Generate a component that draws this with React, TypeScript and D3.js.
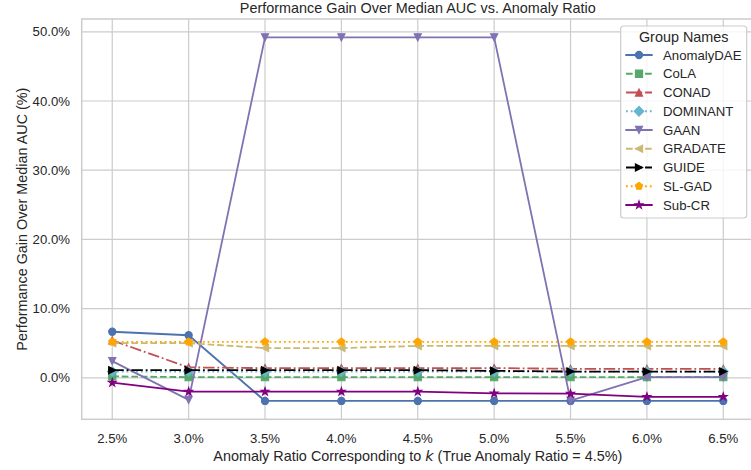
import React from 'react';
import * as d3 from 'd3';

const ratios = [2.5, 3.0, 3.5, 4.0, 4.5, 5.0, 5.5, 6.0, 6.5];
const xTickLabels = ['2.5%', '3.0%', '3.5%', '4.0%', '4.5%', '5.0%', '5.5%', '6.0%', '6.5%'];
const yTicks = [0, 10, 20, 30, 40, 50];

const anomalyDAE = [6.65, 6.15, -3.35, -3.35, -3.35, -3.35, -3.35, -3.35, -3.35];
const cola = [0.2, 0.1, 0.1, 0.1, 0.1, 0.1, 0.1, 0.1, 0.1];
const conad = [5.4, 1.5, 1.4, 1.4, 1.4, 1.4, 1.3, 1.3, 1.3];
const dominant = [0.9, 0.9, 0.9, 0.9, 0.9, 0.9, 0.9, 0.9, 0.9];
const gaan = [2.4, -3.2, 49.2, 49.2, 49.2, 49.2, -3.3, 0.1, 0.1];
const gradate = [5.0, 5.0, 4.3, 4.3, 4.6, 4.6, 4.6, 4.6, 4.6];
const guide = [1.1, 1.1, 1.1, 1.1, 1.1, 1.0, 0.9, 0.9, 0.9];
const slgad = [5.2, 5.2, 5.2, 5.2, 5.2, 5.2, 5.2, 5.2, 5.2];
const subcr = [-0.7, -2.0, -2.0, -2.0, -2.0, -2.25, -2.3, -2.75, -2.75];

const groupNames = ['AnomalyDAE', 'CoLA', 'CONAD', 'DOMINANT', 'GAAN', 'GRADATE', 'GUIDE', 'SL-GAD', 'Sub-CR'];
const groupValues = [anomalyDAE, cola, conad, dominant, gaan, gradate, guide, slgad, subcr];
const groupColors = ['#4c72b0', '#55a868', '#c44e52', '#64b5cd', '#8172b2', '#ccb974', '#000000', '#ffa500', '#800080'];
const groupDashes = ['solid', 'dashed', 'dashdot', 'dotted', 'solid', 'dashed', 'dashdot', 'dotted', 'solid'];
const groupMarkers = ['o', 's', '^', 'D', 'v', '<', '>', 'p', '*'];

const W = 751;
const H = 470;
const LW = 1.8;
const FONT = '"Liberation Sans", Arial, sans-serif';
const TXT = '#262626';

function dashArray(d: string): string | undefined {
  if (d === 'dashed') return `${3.7 * LW},${1.6 * LW}`;
  if (d === 'dashdot') return `${6.4 * LW},${1.6 * LW},${1 * LW},${1.6 * LW}`;
  if (d === 'dotted') return `${1 * LW},${1.65 * LW}`;
  return undefined;
}

function markerPath(m: string): string {
  const s = 3.6;
  const poly = (pts: [number, number][]) => 'M' + pts.map((p) => p.join(',')).join('L') + 'Z';
  switch (m) {
    case 'o':
      return d3.symbol(d3.symbolCircle, Math.PI * s * s)() as string;
    case 's':
      return poly([[-s, -s], [s, -s], [s, s], [-s, s]]);
    case '^':
      return poly([[0, -s], [s, s], [-s, s]]);
    case 'v':
      return poly([[0, s], [s, -s], [-s, -s]]);
    case '<':
      return poly([[-s, 0], [s, -s], [s, s]]);
    case '>':
      return poly([[s, 0], [-s, -s], [-s, s]]);
    case 'D': {
      const r = s * 1.35;
      return poly([[0, -r], [r, 0], [0, r], [-r, 0]]);
    }
    case 'p': {
      const r = s * 1.05;
      const pts: [number, number][] = [];
      for (let i = 0; i < 5; i++) {
        const a = -Math.PI / 2 + (i * 2 * Math.PI) / 5;
        pts.push([r * Math.cos(a), r * Math.sin(a)]);
      }
      return poly(pts);
    }
    case '*': {
      const r = s * 1.15;
      const ri = r * 0.381966;
      const pts: [number, number][] = [];
      for (let i = 0; i < 10; i++) {
        const a = -Math.PI / 2 + (i * Math.PI) / 5;
        const rr = i % 2 === 0 ? r : ri;
        pts.push([rr * Math.cos(a), rr * Math.sin(a)]);
      }
      return poly(pts);
    }
  }
  return '';
}

export default function App() {
  const left = 81.7;
  const top = 19;
  const bottom = 419.3;
  const xMin = 2.5 - 0.2;
  const xMax = 6.5 + 0.2;
  const x = d3.scaleLinear().domain([xMin, xMax]).range([left, 723.3 + (723.3 - 112.3) * 0.05]);
  const y = d3.scaleLinear().domain([-6.0, 51.85]).range([bottom, top]);
  const right = x(xMax);

  const line = d3
    .line<number>()
    .x((_, i) => x(ratios[i]))
    .y((d) => y(d));

  const legX = 620.7;
  const legY = 26;
  const legW = 126;
  const legH = 192;

  return (
    <svg width={W} height={H} style={{ position: 'absolute', left: 0, top: 0, background: '#fff' }} fontFamily={FONT}>
      <rect x={0} y={0} width={W} height={H} fill="#fff" />
      {/* grid */}
      {ratios.map((r, i) => (
        <line key={'gx' + i} x1={x(r)} x2={x(r)} y1={top} y2={bottom} stroke="#cccccc" strokeWidth={1.2} />
      ))}
      {yTicks.map((t, i) => (
        <line key={'gy' + i} x1={left} x2={right} y1={y(t)} y2={y(t)} stroke="#cccccc" strokeWidth={1.2} />
      ))}
      {/* spines */}
      <rect x={left} y={top} width={right - left} height={bottom - top} fill="none" stroke="#cccccc" strokeWidth={1.5} />
      {/* series */}
      {groupNames.map((name, gi) => (
        <g key={name}>
          <path
            d={line(groupValues[gi]) as string}
            fill="none"
            stroke={groupColors[gi]}
            strokeWidth={LW}
            strokeDasharray={dashArray(groupDashes[gi])}
            strokeLinecap={groupDashes[gi] === 'solid' ? 'round' : 'butt'}
            strokeLinejoin="round"
          />
          {groupValues[gi].map((v, i) => (
            <path
              key={i}
              d={markerPath(groupMarkers[gi])}
              transform={`translate(${x(ratios[i])},${y(v)})`}
              fill={groupColors[gi]}
              stroke={groupColors[gi]}
              strokeWidth={1.1}
              strokeLinejoin="miter"
            />
          ))}
        </g>
      ))}
      {/* x tick labels */}
      {ratios.map((r, i) => (
        <text key={'xt' + i} x={x(r)} y={443} textAnchor="middle" fontSize={13.2} fill={TXT}>
          {xTickLabels[i]}
        </text>
      ))}
      {/* y tick labels */}
      {yTicks.map((t, i) => (
        <text key={'yt' + i} x={70} y={y(t)} dy="0.35em" textAnchor="end" fontSize={13.2} fill={TXT}>
          {d3.format('.1f')(t) + '%'}
        </text>
      ))}
      {/* axis labels */}
      <text x={(left + right) / 2} y={461} textAnchor="middle" fontSize={14.4} fill={TXT}>
        Anomaly Ratio Corresponding to <tspan fontStyle="italic" fontFamily='"DejaVu Sans", sans-serif'>k</tspan> (True Anomaly Ratio = 4.5%)
      </text>
      <text
        transform={`translate(27,${(top + bottom) / 2}) rotate(-90)`}
        textAnchor="middle"
        fontSize={14.4}
        fill={TXT}
      >
        Performance Gain Over Median AUC (%)
      </text>
      {/* title */}
      <text x={(left + right) / 2} y={13} textAnchor="middle" fontSize={14.4} fill={TXT}>
        Performance Gain Over Median AUC vs. Anomaly Ratio
      </text>
      {/* legend */}
      <rect x={legX} y={legY} width={legW} height={legH} rx={3} ry={3} fill="#ffffff" fillOpacity={0.8} stroke="#cccccc" strokeWidth={1.2} />
      <text x={legX + legW / 2} y={42} textAnchor="middle" fontSize={14.4} fill={TXT}>
        Group Names
      </text>
      {groupNames.map((name, gi) => {
        const cy = 55 + gi * 18.75;
        return (
          <g key={'leg' + name}>
            <line
              x1={626}
              x2={652}
              y1={cy}
              y2={cy}
              stroke={groupColors[gi]}
              strokeWidth={LW}
              strokeDasharray={dashArray(groupDashes[gi])}
              strokeLinecap={groupDashes[gi] === 'solid' ? 'round' : 'butt'}
            />
            <path
              d={markerPath(groupMarkers[gi])}
              transform={`translate(639,${cy})`}
              fill={groupColors[gi]}
              stroke={groupColors[gi]}
              strokeWidth={1.1}
            />
            <text x={663} y={cy} dy="0.35em" fontSize={13.2} fill={TXT}>
              {name}
            </text>
          </g>
        );
      })}
    </svg>
  );
}
